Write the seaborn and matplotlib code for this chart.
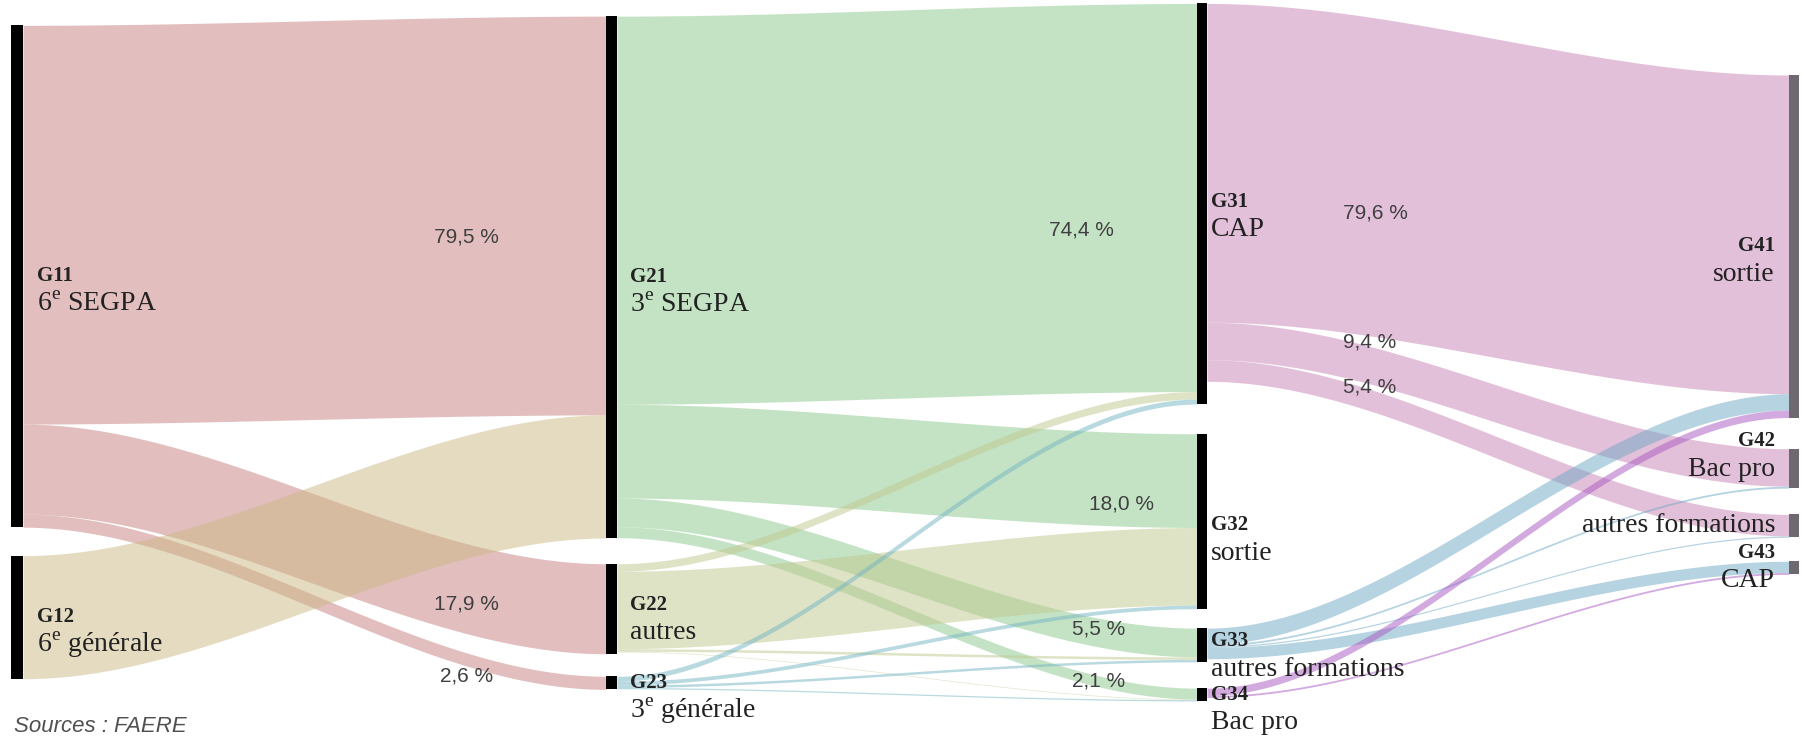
import numpy as np
import matplotlib.pyplot as plt
import seaborn as sns

# Noeuds, de haut en bas dans chaque colonne
node_ids = ['G11', 'G12', 'G21', 'G22', 'G23', 'G31', 'G32', 'G33', 'G34', 'G41', 'G42', 'G4A', 'G43']
node_codes = ['G11', 'G12', 'G21', 'G22', 'G23', 'G31', 'G32', 'G33', 'G34', 'G41', 'G42', '', 'G43']
node_names = ['6$^{\\rm e}$ SEGPA', '6$^{\\rm e}$ générale',
              '3$^{\\rm e}$ SEGPA', 'autres', '3$^{\\rm e}$ générale',
              'CAP', 'sortie', 'autres formations', 'Bac pro',
              'sortie', 'Bac pro', 'autres formations', 'CAP']
node_col = [0, 0, 1, 1, 1, 2, 2, 2, 2, 3, 3, 3, 3]

# Flux (source -> cible), valeurs en % de la cohorte de départ
flow_src = ['G11', 'G11', 'G11', 'G12',
            'G21', 'G21', 'G21', 'G21',
            'G22', 'G22', 'G22', 'G22',
            'G23', 'G23', 'G23', 'G23',
            'G31', 'G31', 'G31',
            'G33', 'G33', 'G33', 'G33',
            'G34', 'G34']
flow_tgt = ['G21', 'G22', 'G23', 'G21',
            'G31', 'G32', 'G33', 'G34',
            'G31', 'G32', 'G33', 'G34',
            'G31', 'G32', 'G33', 'G34',
            'G41', 'G42', 'G4A',
            'G41', 'G42', 'G4A', 'G43',
            'G41', 'G43']
flow_val = [63.8, 14.4, 2.1, 19.7,
            62.1, 15.0, 4.6, 1.75,
            1.2, 12.4, 0.4, 0.1,
            0.8, 0.6, 0.4, 0.2,
            51.0, 6.0, 3.46,
            2.6, 0.3, 0.2, 1.8,
            1.2, 0.3]
flow_pct = ['79,5 %', '17,9 %', '2,6 %', '',
            '74,4 %', '18,0 %', '5,5 %', '2,1 %',
            '', '', '', '',
            '', '', '', '',
            '79,6 %', '9,4 %', '5,4 %',
            '', '', '', '',
            '', '']

# Mise en page
W, H = 1804, 744
U = 6.25                               # pixels par unité
col_x = [11, 606, 1197, 1789]          # bord gauche des barres
bar_w = [12, 11, 10, 10]
bar_color = ['black', 'black', 'black', '#6e6870']
node_top = [4.05, 88.9, 2.58, 90.2, 108.2, 0.55, 69.4, 100.5, 110.1, 12.0, 71.8, 82.3, 89.8]
label_x = [37, 630, 1211, 1775]
code_dy = [0, 0, 0, -4, 0, -2, 4, -4, 0, 0, -27, 0, -15]   # px
name_gap = 28
node_color = {'G11': '#c77f81', 'G12': '#cbb985', 'G21': '#8bc98d', 'G22': '#bfc98d',
              'G23': '#73b5c3', 'G31': '#c983b5', 'G33': '#6fa9c5', 'G34': '#a957c3'}
pct_t = [0.76, 0.76, 0.76, 0, 0.80, 0.87, 0.83, 0.83, 0, 0, 0, 0, 0, 0, 0, 0,
         0.29, 0.28, 0.28, 0, 0, 0, 0, 0, 0]
pct_dy = [20, 16, 17, 0, 31, 25, -3, 0, 0, 0, 0, 0, 0, 0, 0, 0,
          36, -23, -13, 0, 0, 0, 0, 0, 0]

sns.set_theme(style='white')
plt.rcParams['font.family'] = ['Liberation Serif', 'DejaVu Serif']
plt.rcParams['mathtext.fontset'] = 'custom'
plt.rcParams['mathtext.rm'] = 'Liberation Serif'

fig = plt.figure(figsize=(W / 100, H / 100), dpi=100)
ax = fig.add_axes([0, 0, 1, 1])
ax.set_xlim(0, W)
ax.set_ylim(H / U, 0)
ax.axis('off')

idx = {k: i for i, k in enumerate(node_ids)}
n = len(node_ids)
inflow = np.zeros(n)
outflow = np.zeros(n)
for s, t, v in zip(flow_src, flow_tgt, flow_val):
    outflow[idx[s]] += v
    inflow[idx[t]] += v
height = np.maximum(inflow, outflow)

# Position des flux dans les noeuds
nf = len(flow_val)
y_src = {}
off = np.array(node_top, float)
for k in sorted(range(nf), key=lambda k: (idx[flow_src[k]], idx[flow_tgt[k]])):
    i = idx[flow_src[k]]
    y_src[k] = off[i]
    off[i] += flow_val[k]
y_tgt = {}
off = np.array(node_top, float)
for k in sorted(range(nf), key=lambda k: (idx[flow_tgt[k]], idx[flow_src[k]])):
    i = idx[flow_tgt[k]]
    y_tgt[k] = off[i]
    off[i] += flow_val[k]


def smooth(t):
    return 3 * t ** 2 - 2 * t ** 3


# Dessiner les flux
for k in range(nf):
    c = node_col[idx[flow_src[k]]]
    x0 = col_x[c] + bar_w[c]
    x1 = col_x[c + 1]
    xs = np.linspace(x0, x1, 200)
    s = smooth((xs - x0) / (x1 - x0))
    top = y_src[k] + (y_tgt[k] - y_src[k]) * s
    bot = top + flow_val[k]
    ax.fill_between(xs, top, bot, color=node_color[flow_src[k]], alpha=0.5, lw=0)
    if flow_pct[k]:
        t = pct_t[k]
        xl = x0 + t * (x1 - x0)
        yl = y_src[k] + (y_tgt[k] - y_src[k]) * smooth(t) + flow_val[k] / 2 + pct_dy[k] / U
        ax.text(xl, yl, flow_pct[k], ha='center', va='center', fontsize=15,
                family='Liberation Sans', color='#404040')

# Barres des noeuds et étiquettes
for i in range(n):
    c = node_col[i]
    ax.bar(col_x[c], height[i], width=bar_w[c], bottom=node_top[i], align='edge',
           color=bar_color[c], lw=0)
    yc = node_top[i] + height[i] / 2 + code_dy[i] / U
    ha = 'right' if c == 3 else 'left'
    if node_codes[i]:
        ax.text(label_x[c], yc, node_codes[i], ha=ha, va='center', fontsize=15,
                fontweight='bold', color='#222222')
        yn = yc + name_gap / U
    else:
        yn = yc
    ax.text(label_x[c], yn, node_names[i], ha=ha, va='center', fontsize=20, color='#222222')

fig.text(14 / W, 1 - 727 / H, 'Sources : FAERE', ha='left', va='center', fontsize=16,
         style='italic', family='Liberation Sans', color='#505050')

plt.savefig('out.png', dpi=100)
